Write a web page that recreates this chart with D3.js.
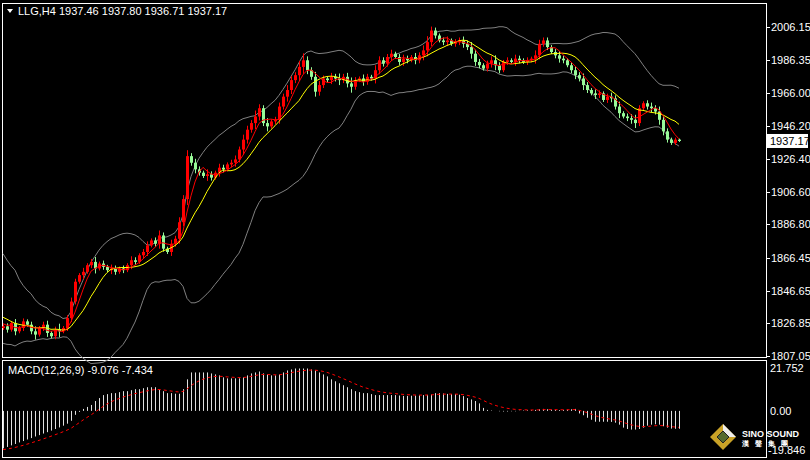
<!DOCTYPE html>
<html><head><meta charset="utf-8">
<script src="https://cdn.jsdelivr.net/npm/d3@7"></script>
<style>body{margin:0;background:#000}svg{display:block}text{font-family:"Liberation Sans",sans-serif;font-size:11px;fill:#fff}</style>
</head><body><svg id="c" width="810" height="460"></svg>
<script>
// warmup closes before the first visible bar (only feed the indicators)
var warmup = [1868,1862,1858,1864,1855,1850,1846,1849,1842,1838,1835,1840,1834,1830,1833,1828,1826,1830,1824];
var closes = [1825,1823,1827,1822,1824,1828,1826,1822,1820,1824,1826,1821,1819,1823,1822,1824,
 1830,1840,1852,1856,1858,1862,1864,1860,1863,1861,1859,1860,1858,1860,1859,1862,1865,1864,1868,1870,
 1874,1877,1875,1880,1872,1870,1875,1878,1888,1902,1928,1924,1920,1918,1916,1917,1915,1918,1921,1920,
 1923,1924,1926,1932,1938,1944,1948,1952,1957,1948,1946,1949,1950,1958,1964,1968,1974,1977,1982,1986,
 1980,1976,1967,1971,1975,1974,1976,1975,1974,1976,1972,1970,1974,1975,1973,1976,1975,1980,1986,1984,
 1988,1990,1988,1985,1987,1986,1988,1986,1989,1992,1997,2004,2001,1998,1997,1998,1996,1997,1998,1996,
 1994,1990,1985,1983,1981,1984,1986,1983,1980,1985,1986,1985,1987,1986,1985,1986,1987,1989,1996,1998,
 1994,1991,1989,1987,1986,1983,1980,1977,1975,1971,1968,1966,1965,1966,1962,1964,1963,1958,1954,1952,
 1951,1950,1948,1957,1960,1958,1957,1955,1950,1943,1938,1936,1938,1937.17];
var wicks = [2,3,2,4,2,3,2,3,5,2,3,4,2,3,6,2,3,4,3,2,4,2,3,5,2,3,2,4,3,2,3,2,4,3,2,3,4,2,3,5,
 3,2,4,3,5,4,6,3,4,3,2,5,3,2,4,3,2,3,4,3,5,4,3,6,4,3,5,2,3,4,3,5,4,3,6,7,4,3,5,4,
 3,2,4,3,5,3,4,6,3,2,4,3,2,5,4,3,3,4,2,3,4,3,2,4,3,5,6,4,3,2,3,4,2,3,3,4,3,5,4,3,
 2,3,4,5,3,2,3,2,4,3,2,3,2,5,4,3,3,2,3,4,3,2,3,4,3,5,3,2,4,3,2,3,4,3,5,2,3,4,5,3,
 2,3,4,3,5,4,3,2,2,1];
var macd = [-19,-18.3,-17.5,-16.8,-16,-15.3,-14.5,-13.8,-13,-12.3,-11.5,-10.8,-10,-9.2,-8.4,-7.5,-6.5,-5,-2,-0.5,
 1,2,3,5,6.5,8,8.5,9,9,9.5,10,10,10.5,11,11,11.5,12,12,12,11,10,9,9,8.7,8.7,11,16,19.5,19.5,19.5,
 19.5,19.5,19,18.5,18,17,16.5,16.5,16.5,16.5,17,18,19,19.5,20,19,18.5,18,18,18.5,19.5,20.5,21,21.5,21.5,21.5,21.5,21,20.5,19.5,
 18.5,17.5,16,15,14,13,12,11,10,9.5,9,9,8.5,8,8,8,8,8,8,7.8,7.6,7.6,7.7,7.8,7.9,8,8.1,8.3,9,9,
 8.8,8.6,8.5,8.5,8.2,7.5,6.5,5.8,5,3.8,1.5,0.5,0.2,0,-0.2,-0.3,-0.3,-0.2,-0.2,0.1,0.2,0.3,0.3,0.5,0.8,1,0.8,0.6,0.5,0.4,
 0.5,0.6,0.8,1,-1.3,-2.2,-3.5,-4.5,-5.5,-5.5,-5.5,-5.5,-5.6,-6,-7,-8.5,-9.2,-9.5,-9.5,-9.2,-8.5,-7.5,-7,-6.8,
 -7,-7.8,-8.5,-9,-9.1,-9.076];
var signalStart = -19.8;
var priceTicks = [2006.15,1986.35,1966.00,1946.20,1926.40,1906.60,1886.80,1866.45,1846.65,1826.85,1807.05];
var macdTicks = [21.752,0.00,-19.846];

var svg = d3.select('#c');
var all = warmup.concat(closes), W = warmup.length;

// indicators
function sma(arr, n, i){ var s=0; for(var k=i-n+1;k<=i;k++) s+=arr[k]; return s/n; }
var bands = [], ma5 = [], ma10 = [];
closes.forEach(function(c, j){
	var i = j + W, m = sma(all, 20, i), v = 0;
	for (var k=i-19;k<=i;k++) v += (all[k]-m)*(all[k]-m);
	var sd = Math.sqrt(v/20);
	bands.push({m:m, u:m+2*sd, l:m-2*sd});
	ma5.push(sma(all, 5, i)); ma10.push(sma(all, 10, i));
});
var sig = [], k9 = 2/10, s = signalStart;
macd.forEach(function(v){ s = s + k9*(v - s); sig.push(s); });

var x = d3.scaleLinear().domain([0, closes.length-1]).range([3, 679]);
var y = d3.scaleLinear().domain([1807.05, 2006.15]).range([356, 27]);
var ym = d3.scaleLinear().domain([-19.846, 21.752]).range([450, 368]);

// frames
svg.append('rect').attr('x',2.5).attr('y',3.5).attr('width',764).attr('height',354).attr('fill','none').attr('stroke','#fff');
svg.append('rect').attr('x',2.5).attr('y',360.5).attr('width',764).attr('height',97).attr('fill','none').attr('stroke','#fff');

var main = svg.append('g');
var line = function(f, sc){ return d3.line().x(function(d,i){return x(i);}).y(function(d){return sc(f(d));}); };
['u','l'].forEach(function(key){
	main.append('path').datum(bands).attr('d', line(function(d){return d[key];}, y))
		.attr('fill','none').attr('stroke','#808080').attr('stroke-width',1);
});

// candles
closes.forEach(function(c, i){
	var o = i ? closes[i-1] : warmup[W-1];
	var col = c >= o ? '#ff0000' : '#98fb98';
	var hi = Math.max(o,c) + wicks[i]*0.6, lo = Math.min(o,c) - wicks[i]*0.6;
	var cx = Math.round(x(i)) + 0.5;
	main.append('line').attr('x1',cx).attr('x2',cx).attr('y1',y(hi)).attr('y2',y(lo)).attr('stroke',col);
	var top = y(Math.max(o,c)), bot = y(Math.min(o,c));
	main.append('rect').attr('x',cx-1.5).attr('y',top).attr('width',3).attr('height',Math.max(1,bot-top)).attr('fill',col);
});
main.append('path').datum(ma10).attr('d', line(function(d){return d;}, y)).attr('fill','none').attr('stroke','#ffff00');
main.append('path').datum(ma5).attr('d', line(function(d){return d;}, y)).attr('fill','none').attr('stroke','#ff0000');

// price axis
priceTicks.forEach(function(t){
	svg.append('line').attr('x1',766).attr('x2',770).attr('y1',Math.round(y(t))+0.5).attr('y2',Math.round(y(t))+0.5).attr('stroke','#fff');
	svg.append('text').attr('x',771).attr('y',y(t)+4).text(t.toFixed(2));
});
var last = closes[closes.length-1];
svg.append('rect').attr('x',767).attr('y',y(last)-7).attr('width',41).attr('height',14).attr('fill','#fff');
svg.append('text').attr('x',770).attr('y',y(last)+4).style('fill','#000').text(last.toFixed(2));

svg.append('path').attr('d','M7,9L13,9L10,13Z').attr('fill','#fff');
svg.append('text').attr('x',18).attr('y',15).text('LLG,H4  1937.46 1937.80 1936.71 1937.17');

// MACD
macd.forEach(function(v, i){
	var cx = Math.round(x(i)) + 0.5;
	svg.append('line').attr('x1',cx).attr('x2',cx).attr('y1',ym(0)).attr('y2',ym(v)).attr('stroke','#e0e0e0');
});
svg.append('path').datum(sig).attr('d', line(function(d){return d;}, ym)).attr('fill','none')
	.attr('stroke','#ff0000').attr('stroke-dasharray','3,3');
svg.append('text').attr('x',8).attr('y',374).text('MACD(12,26,9) -9.076 -7.434');
macdTicks.forEach(function(t){
	svg.append('text').attr('x',t<0?768:770).attr('y',ym(t)+4).text(t===0?'0.00':t.toFixed(3));
});

// logo
var lg = svg.append('g').attr('transform','translate(723,437)');
lg.append('path').attr('d','M0,-13L13,0L0,13L-13,0Z').attr('fill','#c9a227');
lg.append('path').attr('d','M0,-13L13,0L0,0Z').attr('fill','#eee');
lg.append('path').attr('d','M0,-6L6,0L0,6L-6,0Z').attr('fill','#556b2f').attr('stroke','#222');
svg.append('text').attr('x',742).attr('y',437).style('font-weight','bold').style('font-size','9px').text('SINO SOUND');
svg.append('text').attr('x',742).attr('y',446).style('font-weight','bold').style('font-size','7px').style('letter-spacing','6px').text('漢聲集團');
</script></body></html>
